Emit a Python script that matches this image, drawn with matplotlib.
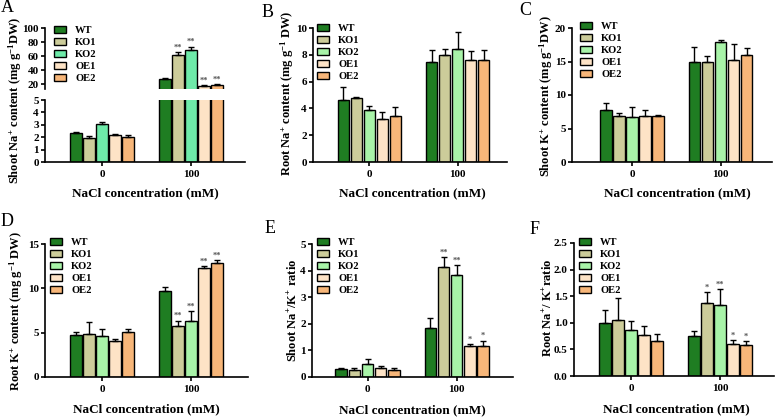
import numpy as np
import matplotlib
matplotlib.use("Agg")
import matplotlib.pyplot as plt
from matplotlib.patches import Patch
from matplotlib.ticker import FormatStrFormatter

plt.rcParams['font.family'] = ['Liberation Serif']
plt.rcParams['font.weight'] = 'bold'
plt.rcParams['mathtext.fontset'] = 'custom'
plt.rcParams['mathtext.rm'] = 'Liberation Serif:bold'
plt.rcParams['mathtext.it'] = 'Liberation Serif:bold'
plt.rcParams['mathtext.bf'] = 'Liberation Serif:bold'
plt.rcParams['axes.linewidth'] = 1.2

# ---------------- data ----------------
genotypes = ['WT', 'KO1', 'KO2', 'OE1', 'OE2']
nacl = ['0', '100']

shootNa_0 = [2.3, 1.9, 3.1, 2.2, 2.0]
shootNa_0_err = [0.1, 0.22, 0.15, 0.07, 0.15]
shootNa_100 = [27, 62, 68.5, 17, 18]
shootNa_100_err = [2, 4, 5, 2, 2]
shootNa_sig = ['', '**', '**', '**', '**']

rootNa_0 = [4.65, 4.75, 3.9, 3.2, 3.4]
rootNa_0_err = [0.95, 0.12, 0.3, 0.55, 0.68]
rootNa_100 = [7.45, 7.95, 8.4, 7.6, 7.6]
rootNa_100_err = [0.92, 0.5, 1.28, 0.68, 0.78]
rootNa_sig = ['', '', '', '', '']

shootK_0 = [7.75, 6.85, 6.65, 6.85, 6.85]
shootK_0_err = [1.0, 0.4, 1.6, 0.9, 0.2]
shootK_100 = [15.0, 15.0, 17.85, 15.25, 15.9]
shootK_100_err = [2.2, 0.8, 0.3, 2.3, 1.1]
shootK_sig = ['', '', '', '', '']

rootK_0 = [4.76, 4.8, 4.57, 4.05, 5.06]
rootK_0_err = [0.35, 1.45, 0.8, 0.25, 0.3]
rootK_100 = [9.75, 5.8, 6.3, 12.3, 12.86]
rootK_100_err = [0.42, 0.55, 1.1, 0.2, 0.35]
rootK_sig = ['', '**', '**', '**', '**']

shootR_0 = [0.29, 0.25, 0.48, 0.34, 0.28]
shootR_0_err = [0.06, 0.07, 0.18, 0.07, 0.04]
shootR_100 = [1.85, 4.12, 3.85, 1.15, 1.17]
shootR_100_err = [0.37, 0.38, 0.37, 0.1, 0.2]
shootR_sig = ['', '**', '**', '*', '*']

rootR_0 = [0.99, 1.06, 0.86, 0.78, 0.66]
rootR_0_err = [0.26, 0.41, 0.17, 0.16, 0.13]
rootR_100 = [0.76, 1.38, 1.34, 0.61, 0.58]
rootR_100_err = [0.09, 0.2, 0.29, 0.06, 0.07]
rootR_sig = ['', '*', '**', '*', '*']

colors = ['#1f7d22', '#cccc9a', '#a8f3a8', '#fde3c6', '#f7b679']
colors_A = ['#1f7d22', '#cccc9a', '#6eeaa9', '#fde3c6', '#f7b679']

W, H = 777, 417
fig = plt.figure(figsize=(W / 100, H / 100), dpi=100)

def rect(l, r, t, b):
    return [l / W, 1 - b / H, (r - l) / W, (b - t) / H]

PITCH = 0.147
BW = 0.13

def xlim_from(l, r, c0, c1):
    u = c1 - c0
    return ((l - c0) / u, (r - c0) / u)

def style(ax, xl, bottom=True):
    ax.spines['top'].set_visible(False)
    ax.spines['right'].set_visible(False)
    if not bottom:
        ax.spines['bottom'].set_visible(False)
    ax.set_xlim(*xl)
    ax.tick_params(axis='y', direction='out', length=3, width=1.2, labelsize=8, pad=1.5)
    ax.tick_params(axis='x', direction='out', length=3, width=1.2, labelsize=8, pad=3)
    for lab in ax.get_yticklabels() + ax.get_xticklabels():
        lab.set_fontweight('bold')

def draw_bars(ax, v0, e0, v1, e1, cols, sig=None):
    for g, (vals, errs) in enumerate([(v0, e0), (v1, e1)]):
        xs = g + (np.arange(5) - 2) * PITCH
        ax.bar(xs, vals, width=BW, color=cols, edgecolor='black', linewidth=1.0, zorder=2)
        ax.errorbar(xs, vals, yerr=[np.zeros(5), errs], fmt='none', ecolor='black',
                    elinewidth=1.0, capsize=2.3, capthick=1.0, zorder=3)
        if sig is not None and g == 1:
            for x, v, e, s in zip(xs, vals, errs, sig):
                if s:
                    ax.annotate(s, (x, v + e), xytext=(0, 0.3), textcoords='offset points',
                                ha='center', va='bottom', fontsize=6, color='#555555',
                                fontweight='bold')

def add_legend(ax, cols, hx, hy):
    handles = [Patch(facecolor=c, edgecolor='black', linewidth=1.0) for c in cols]
    ax.legend(handles, genotypes, loc='upper left', bbox_to_anchor=(hx / W, 1 - (hy - 6.5) / H),
              bbox_transform=fig.transFigure, frameon=False, borderpad=0, borderaxespad=0,
              handlelength=1.1, handleheight=0.65, handletextpad=0.9, labelspacing=0.28,
              prop={'family': 'Liberation Serif', 'weight': 'bold', 'size': 7.6})

def labels(ylab, yx, yy, xx, xy, letter, lx, ly):
    fig.text(yx / W, 1 - yy / H, ylab, rotation=90, ha='center', va='center',
             fontsize=9.0, fontweight='bold')
    fig.text(xx / W, 1 - xy / H, 'NaCl concentration (mM)', ha='center', va='center',
             fontsize=9.5, fontweight='bold')
    fig.text(lx / W, 1 - ly / H, letter, ha='left', va='baseline', fontsize=13,
             fontweight='normal')

# ---------------- Panel A (broken axis) ----------------
xlA = xlim_from(45, 245, 102, 191)
axAl = fig.add_axes(rect(45, 245, 100, 162))
axAu = fig.add_axes(rect(45, 245, 28, 89))
draw_bars(axAl, shootNa_0, shootNa_0_err, shootNa_100, shootNa_100_err, colors_A, None)
draw_bars(axAu, shootNa_0, shootNa_0_err, shootNa_100, shootNa_100_err, colors_A, shootNa_sig)
axAl.set_ylim(0, 5)
axAl.set_yticks([0, 1, 2, 3, 4, 5])
axAu.set_ylim(13, 100)
axAu.set_yticks([20, 40, 60, 80, 100])
axAl.set_xticks([0, 1])
axAl.set_xticklabels(nacl)
axAu.set_xticks([])
style(axAl, xlA)
style(axAu, xlA, bottom=False)
add_legend(axAu, colors_A, 54, 32)
labels('Shoot Na$^{+}$ content (mg g$^{-1}$DW)', 15, 100, 145, 193, 'A', 1, 12)

# ---------------- Panel B ----------------
axB = fig.add_axes(rect(313, 507, 28, 162))
draw_bars(axB, rootNa_0, rootNa_0_err, rootNa_100, rootNa_100_err, colors, rootNa_sig)
axB.set_ylim(0, 10)
axB.set_yticks([0, 2, 4, 6, 8, 10])
axB.set_xticks([0, 1]); axB.set_xticklabels(nacl)
style(axB, xlim_from(313, 507, 369.3, 457.7))
add_legend(axB, colors, 317, 30)
labels('Root Na$^{+}$ content (mg g$^{-1}$ DW)', 287, 93, 412, 193, 'B', 262, 17)

# ---------------- Panel C ----------------
axC = fig.add_axes(rect(572, 772, 28, 162))
draw_bars(axC, shootK_0, shootK_0_err, shootK_100, shootK_100_err, colors, shootK_sig)
axC.set_ylim(0, 20)
axC.set_yticks([0, 5, 10, 15, 20])
axC.set_xticks([0, 1]); axC.set_xticklabels(nacl)
style(axC, xlim_from(572, 772, 632, 720.5))
add_legend(axC, colors, 580, 28)
labels('Shoot K$^{+}$ content (mg g$^{-1}$DW)', 546, 96, 677, 193, 'C', 519, 15)

# ---------------- Panel D ----------------
axD = fig.add_axes(rect(45, 248, 244, 377))
draw_bars(axD, rootK_0, rootK_0_err, rootK_100, rootK_100_err, colors, rootK_sig)
axD.set_ylim(0, 15)
axD.set_yticks([0, 5, 10, 15])
axD.set_xticks([0, 1]); axD.set_xticklabels(nacl)
style(axD, xlim_from(45, 248, 102, 191))
add_legend(axD, colors, 50, 244)
labels('Root K$^{+}$ content (mg g$^{-1}$ DW)', 16, 311, 146, 409, 'D', 1, 226)

# ---------------- Panel E ----------------
axE = fig.add_axes(rect(312, 513, 244, 377))
draw_bars(axE, shootR_0, shootR_0_err, shootR_100, shootR_100_err, colors, shootR_sig)
axE.set_ylim(0, 5)
axE.set_yticks([0, 1, 2, 3, 4, 5])
axE.set_xticks([0, 1]); axE.set_xticklabels(nacl)
style(axE, xlim_from(312, 513, 367.5, 456.7))
add_legend(axE, colors, 317, 244)
labels('Shoot Na$^{+}$/K$^{+}$ ratio', 293, 310, 412, 410, 'E', 265, 233)

# ---------------- Panel F ----------------
axF = fig.add_axes(rect(574, 774, 243, 376))
draw_bars(axF, rootR_0, rootR_0_err, rootR_100, rootR_100_err, colors, rootR_sig)
axF.set_ylim(0, 2.5)
axF.set_yticks([0, 0.5, 1.0, 1.5, 2.0, 2.5])
axF.yaxis.set_major_formatter(FormatStrFormatter('%.1f'))
axF.set_xticks([0, 1]); axF.set_xticklabels(nacl)
style(axF, xlim_from(574, 774, 631, 720))
add_legend(axF, colors, 579, 244)
labels('Root Na$^{+}$/ K$^{+}$ratio', 548, 308, 676, 409, 'F', 530, 234)

fig.savefig('out.png', dpi=100)
